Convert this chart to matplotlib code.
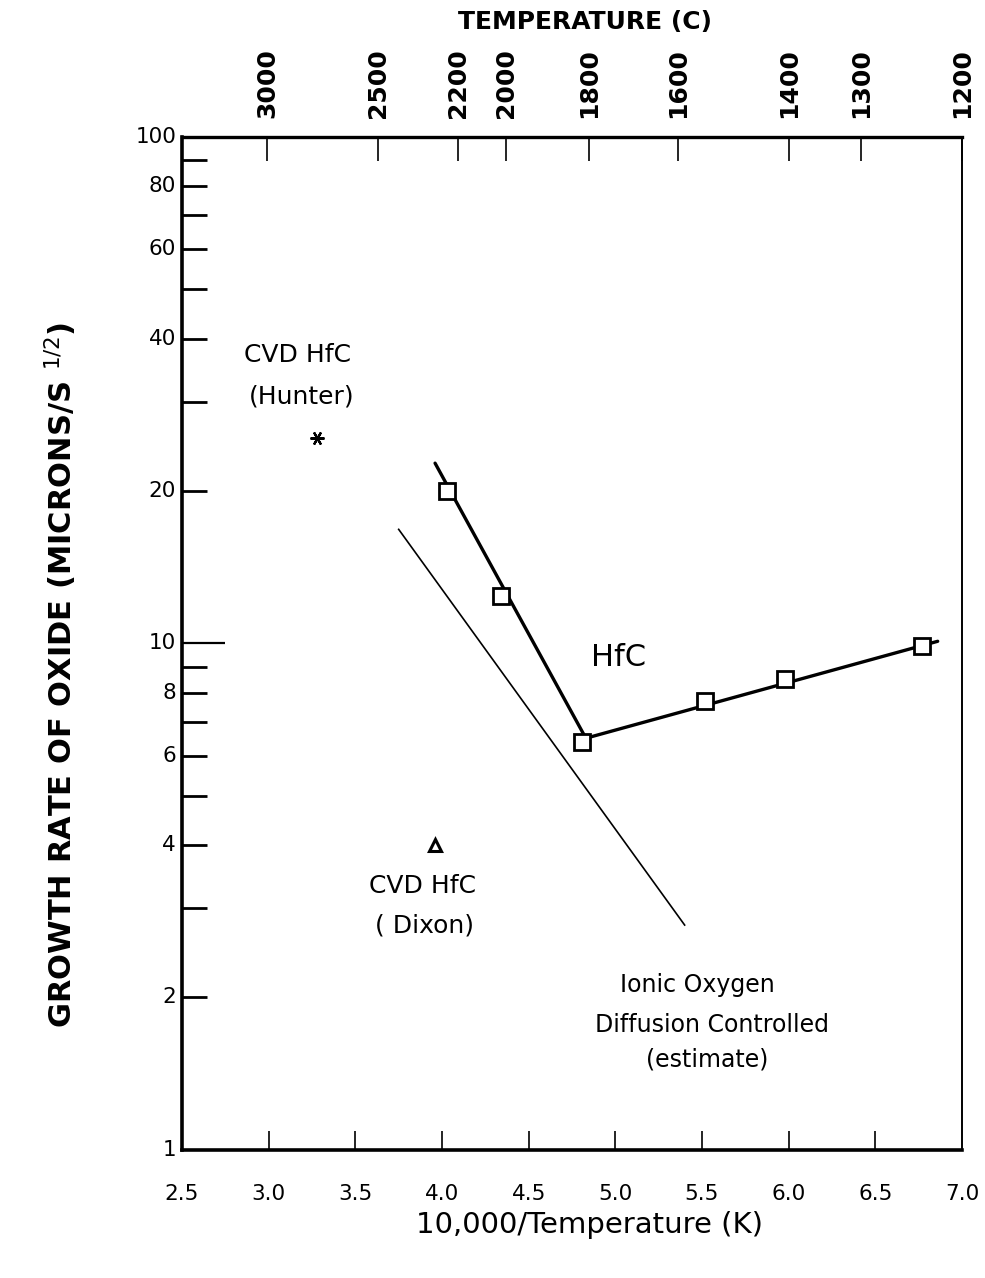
import matplotlib
matplotlib.use("Agg")
import matplotlib.pyplot as plt
import numpy as np

# Oxidation data for HfC: reciprocal temperature (10,000/T, K) vs growth rate
hfc_inv_t = [4.03, 4.34, 4.81, 5.52, 5.98, 6.77]
hfc_rate = [20.0, 12.4, 6.4, 7.7, 8.5, 9.9]

# Two-regime fit through the HfC points (break near 1800 C)
fit_inv_t = [3.96, 4.83, 6.86]
fit_rate = [22.7, 6.5, 10.1]

# Ionic oxygen diffusion controlled estimate
ionic_inv_t = [3.75, 5.40]
ionic_rate = [16.8, 2.78]

# CVD HfC literature points
hunter_inv_t, hunter_rate = [3.28], [25.5]
dixon_inv_t, dixon_rate = [3.96], [4.0]

# Axis ticks
x_ticks = [3.0, 3.5, 4.0, 4.5, 5.0, 5.5, 6.0, 6.5]
x_tick_labels = ["2.5", "3.0", "3.5", "4.0", "4.5", "5.0", "5.5", "6.0", "6.5", "7.0"]
x_label_pos = [2.5, 3.0, 3.5, 4.0, 4.5, 5.0, 5.5, 6.0, 6.5, 7.0]
y_ticks = [2, 3, 4, 5, 6, 7, 8, 9, 10, 20, 30, 40, 50, 60, 70, 80, 90, 100]
y_labeled = {1: "1", 2: "2", 4: "4", 6: "6", 8: "8", 10: "10",
             20: "20", 40: "40", 60: "60", 80: "80", 100: "100"}
temp_c_labels = ["3000", "2500", "2200", "2000", "1800", "1600", "1400", "1300", "1200"]
temp_c_pos = [2.99, 3.63, 4.09, 4.37, 4.85, 5.36, 6.00, 6.42, 7.00]

plt.rcParams["font.family"] = ["DejaVu Sans"]

fig = plt.figure(figsize=(9.85, 12.78), dpi=100)
ax = fig.add_axes([0.1848, 0.1002, 0.7918, 0.7926])

ax.set_xscale("linear")
ax.set_yscale("log")
ax.set_xlim(2.5, 7.0)
ax.set_ylim(1, 100)

# Curves
ax.plot(fit_inv_t, fit_rate, color="black", lw=2.4, solid_capstyle="round")
ax.plot(ionic_inv_t, ionic_rate, color="black", lw=1.2)
ax.plot(hfc_inv_t, hfc_rate, linestyle="none", marker="s", ms=11,
        mfc="white", mec="black", mew=2.0)
ax.plot(hunter_inv_t, hunter_rate, linestyle="none", marker=(6, 2, 90),
        ms=10, mec="black", mew=1.6)
ax.plot(dixon_inv_t, dixon_rate, linestyle="none", marker="^", ms=9,
        mfc="white", mec="black", mew=2.2)

# Spines
for side, lw in (("left", 2.6), ("bottom", 2.6), ("top", 2.4), ("right", 1.4)):
    ax.spines[side].set_linewidth(lw)

# Bottom axis: inward ticks, labels at every half unit
ax.set_xticks(x_ticks)
ax.set_xticklabels([])
ax.tick_params(axis="x", which="major", direction="in", length=14, width=1.2,
               top=False, bottom=True)
for xv, lab in zip(x_label_pos, x_tick_labels):
    ax.text(xv, -0.043, lab, transform=ax.get_xaxis_transform(),
            ha="center", va="center", fontsize=15.5)

# Left axis
ax.set_yticks(y_ticks)
ax.set_yticklabels([])
ax.yaxis.set_minor_locator(matplotlib.ticker.NullLocator())
ax.tick_params(axis="y", which="major", direction="in", length=18, width=2.0,
               left=True, right=False)
for t, yv in zip(ax.yaxis.get_major_ticks(), y_ticks):
    if yv == 10:
        t.tick1line.set_markersize(31)
        t.tick1line.set_markeredgewidth(1.6)
for yv, lab in y_labeled.items():
    ax.text(-0.0075, yv, lab, transform=ax.get_yaxis_transform(),
            ha="right", va="center", fontsize=15.5)

# Top axis in degrees Celsius
top = ax.secondary_xaxis("top")
top.set_xticks(temp_c_pos)
top.set_xticklabels(temp_c_labels, rotation=90, fontsize=18, fontweight="bold")
top.tick_params(direction="in", length=17, width=1.2, pad=14)
top.spines["top"].set_visible(False)

# Axis titles
ax.text(0.517, 1.1135, "TEMPERATURE (C)", transform=ax.transAxes,
        ha="center", va="center", fontsize=18, fontweight="bold")
ax.text(0.523, -0.074, "10,000/Temperature (K)", transform=ax.transAxes,
        ha="center", va="center", fontsize=21)
ax.text(-0.155, 0.469, "GROWTH RATE OF OXIDE (MICRONS/S $^{1/2}$)",
        transform=ax.transAxes, rotation=90, ha="center", va="center",
        fontsize=22, fontweight="bold")

# Annotations
ax.text(3.164, 37.1, "CVD HfC", ha="center", va="center", fontsize=18)
ax.text(3.19, 30.7, "(Hunter)", ha="center", va="center", fontsize=18)
ax.text(5.016, 9.4, "HfC", ha="center", va="center", fontsize=22)
ax.text(3.885, 3.32, "CVD HfC", ha="center", va="center", fontsize=18)
ax.text(3.90, 2.78, "( Dixon)", ha="center", va="center", fontsize=18)
ax.text(5.472, 2.118, "Ionic Oxygen", ha="center", va="center", fontsize=17)
ax.text(5.558, 1.765, "Diffusion Controlled", ha="center", va="center", fontsize=17)
ax.text(5.53, 1.506, "(estimate)", ha="center", va="center", fontsize=17)

fig.savefig("out.png", dpi=100, facecolor="white")
